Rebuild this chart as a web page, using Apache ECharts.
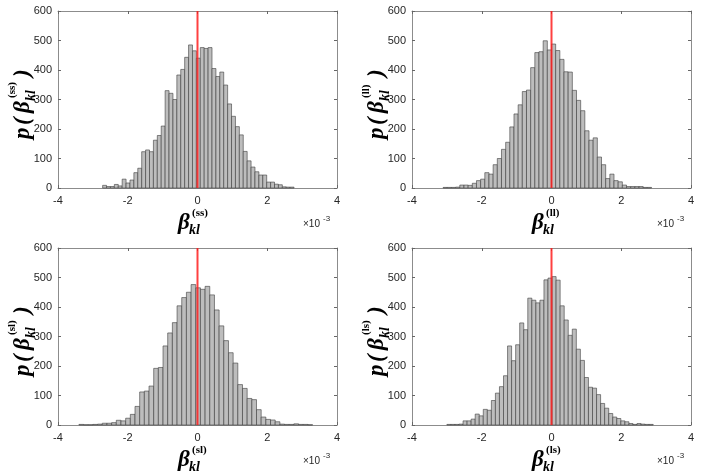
<!DOCTYPE html>
<html>
<head>
<meta charset="utf-8">
<script src="https://cdn.jsdelivr.net/npm/echarts@6/dist/echarts.min.js"></script>
<style>
  html, body { margin: 0; padding: 0; background: #fff; }
  #main { width: 706px; height: 475px; }
</style>
</head>
<body>
<div id="main"></div>
<script>
// histogram counts, one value per bin, left to right
const countsSS = [9, 5, 5, 12, 7, 30, 17, 27, 52, 67, 123, 129, 123, 162, 178, 210, 330, 321, 300, 383,
  402, 443, 485, 465, 440, 476, 473, 476, 405, 378, 393, 349, 285, 243, 208, 180, 124, 92, 71, 55,
  44, 44, 20, 20, 13, 11, 4, 3, 3];
const countsLL = [2, 2, 2, 3, 10, 10, 9, 16, 25, 30, 52, 47, 79, 100, 131, 155, 207, 251, 282, 327,
  332, 408, 459, 462, 499, 468, 488, 466, 436, 394, 393, 331, 297, 262, 194, 162, 170, 105, 79, 32,
  47, 25, 21, 10, 5, 5, 5, 5, 2, 2];
const countsSL = [2, 1, 1, 2, 3, 6, 6, 8, 16, 14, 23, 36, 63, 112, 115, 132, 192, 195, 268, 312,
  347, 404, 432, 450, 476, 465, 460, 470, 441, 390, 336, 286, 245, 210, 137, 124, 90, 86, 52, 27,
  19, 17, 11, 3, 2, 2, 4, 2, 2, 1];
const countsLS = [2, 2, 2, 3, 14, 14, 20, 37, 31, 53, 50, 83, 108, 130, 167, 268, 218, 272, 346, 323,
  430, 423, 414, 423, 492, 498, 503, 491, 404, 356, 304, 325, 257, 219, 161, 128, 125, 103, 73, 57,
  39, 27, 22, 14, 11, 5, 2, 5, 3, 2, 2];

// first bin edge and bin width (x in units of 1e-3)
const binStart = [-2.72, -3.107, -3.40, -3.0];
const binWidth = [0.112, 0.1195, 0.134, 0.116];

// axes
const xMin = -4, xMax = 4, xStep = 2;
const yMin = 0, yMax = 600, yStep = 100;
const superscripts = ['(ss)', '(ll)', '(sl)', '(ls)'];
const zeroLine = [[0, yMin], [0, yMax]];

const allCounts = [countsSS, countsLL, countsSL, countsLS];
const boxes = [
  { left: 58, top: 11 }, { left: 412, top: 11 },
  { left: 58, top: 248 }, { left: 412, top: 248 }
];
const plotW = 279, plotH = 177;

const tickFont = { fontFamily: 'Liberation Sans', fontSize: 11, color: '#262626' };
const frame = { show: true, onZero: false, lineStyle: { color: '#8c8c8c', width: 1 } };
const tick = { show: true, inside: true, length: 3, lineStyle: { color: '#666' } };

function bins(counts, start, w) {
  return counts.map((c, k) => [start + k * w, start + (k + 1) * w, c]);
}

function renderBar(params, api) {
  let lt = api.coord([api.value(0), api.value(2)]);
  let rb = api.coord([api.value(1), 0]);
  return {
    type: 'rect',
    shape: { x: lt[0], y: lt[1], width: rb[0] - lt[0], height: rb[1] - lt[1] },
    style: { fill: '#bdbdbd', stroke: '#3c3c3c', lineWidth: 0.6 }
  };
}

function txt(x, y, s, font) {
  return {
    type: 'text', x: x, y: y,
    style: {
      text: s, font: font, fill: '#000',
      textAlign: 'left', align: 'left',
      textVerticalAlign: 'middle', verticalAlign: 'middle'
    }
  };
}

const bigFont = 'italic bold 23px "Liberation Serif"';
const subFont = 'italic bold 14px "Liberation Serif"';
const supFont = 'bold 11px "Liberation Serif"';

// beta_kl^(..) below the x axis
function xLabel(b, sup) {
  return {
    type: 'group', x: b.left + 120, y: b.top + 212,
    children: [
      txt(0, 0, 'β', bigFont),
      txt(11, 7, 'kl', subFont),
      txt(14, -10, sup, supFont)
    ]
  };
}

// p(beta_kl^(..)) rotated along the y axis
function yLabel(b, sup) {
  return {
    type: 'group', x: b.left - 35, y: b.top + 128, rotation: Math.PI / 2,
    children: [
      txt(0, 0, 'p', bigFont),
      txt(14, 0, '(', bigFont),
      txt(26, 0, 'β', bigFont),
      txt(38, 8, 'kl', subFont),
      txt(41, -11, sup, supFont),
      txt(62, 0, ')', bigFont)
    ]
  };
}

function scaleNote(b) {
  return {
    type: 'group', x: b.left + 245, y: b.top + 213,
    children: [
      { type: 'text', x: 0, y: 0, style: { text: '×10', font: '10px "Liberation Sans"', fill: '#262626', textVerticalAlign: 'middle', verticalAlign: 'middle' } },
      { type: 'text', x: 20, y: -5, style: { text: '-3', font: '8px "Liberation Sans"', fill: '#262626', textVerticalAlign: 'middle', verticalAlign: 'middle' } }
    ]
  };
}

let grid = [], xAxis = [], yAxis = [], series = [], graphic = [];

boxes.forEach((b, i) => {
  grid.push({ left: b.left, top: b.top, width: plotW, height: plotH, containLabel: false });

  xAxis.push({
    type: 'value', gridIndex: i, position: 'bottom', min: xMin, max: xMax, interval: xStep,
    axisLine: frame, axisTick: tick, splitLine: { show: false },
    axisLabel: Object.assign({ margin: 7 }, tickFont)
  });
  xAxis.push({
    type: 'value', gridIndex: i, position: 'top', min: xMin, max: xMax, interval: xStep,
    axisLine: frame, axisTick: tick, splitLine: { show: false }, axisLabel: { show: false }
  });
  yAxis.push({
    type: 'value', gridIndex: i, position: 'left', min: yMin, max: yMax, interval: yStep,
    axisLine: frame, axisTick: tick, splitLine: { show: false },
    axisLabel: Object.assign({ margin: 6 }, tickFont)
  });
  yAxis.push({
    type: 'value', gridIndex: i, position: 'right', min: yMin, max: yMax, interval: yStep,
    axisLine: frame, axisTick: tick, splitLine: { show: false }, axisLabel: { show: false }
  });

  series.push({
    type: 'custom', xAxisIndex: 2 * i, yAxisIndex: 2 * i,
    data: bins(allCounts[i], binStart[i], binWidth[i]),
    encode: { x: [0, 1], y: 2 },
    renderItem: renderBar, silent: true, z: 2
  });
  series.push({
    type: 'line', xAxisIndex: 2 * i, yAxisIndex: 2 * i,
    data: zeroLine, symbol: 'none', silent: true, z: 3,
    lineStyle: { color: '#ff1f1f', width: 2, opacity: 0.85 }
  });

  graphic.push(xLabel(b, superscripts[i]), yLabel(b, superscripts[i]), scaleNote(b));
});

let chart = echarts.init(document.getElementById('main'));
chart.setOption({
  animation: false,
  backgroundColor: '#fff',
  grid: grid, xAxis: xAxis, yAxis: yAxis, series: series, graphic: graphic
});
</script>
</body>
</html>
